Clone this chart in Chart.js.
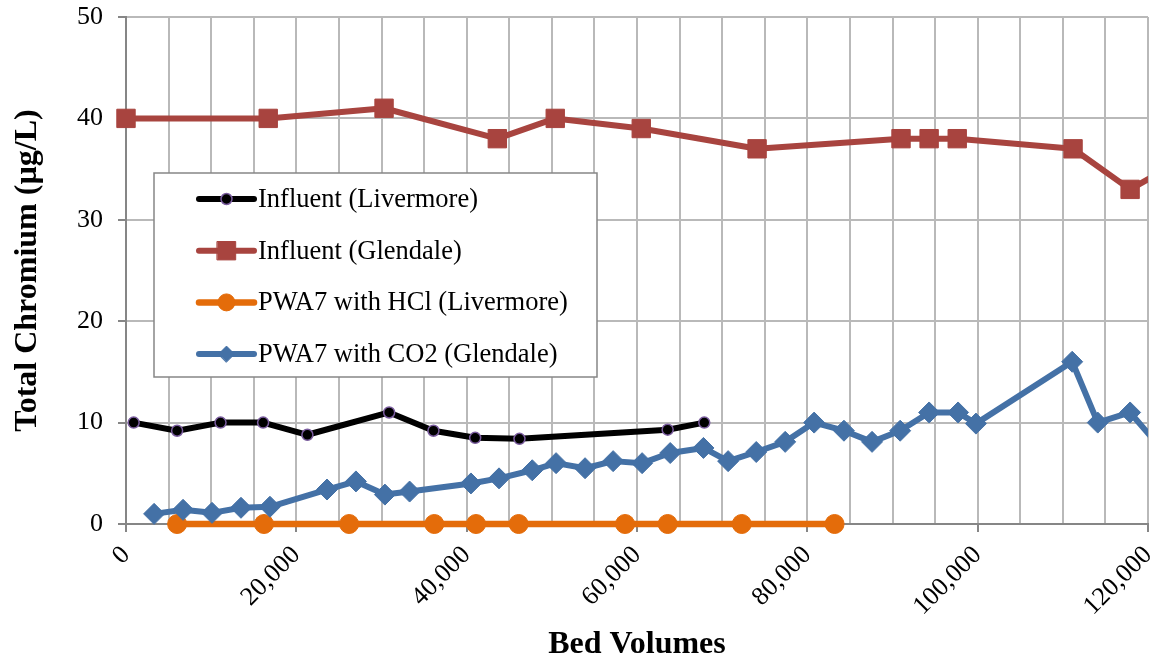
<!DOCTYPE html>
<html>
<head>
<meta charset="utf-8">
<script src="https://cdn.jsdelivr.net/npm/chart.js@4.4.0/dist/chart.umd.min.js"></script>
<style>
  html, body { margin: 0; padding: 0; background: #fff; overflow: hidden; }
  #wrap { width: 1156px; height: 658px; }
  canvas { display: block; }
</style>
</head>
<body>
<div id="wrap"><canvas id="grafica"></canvas></div>
<script>
  // Bed volumes (x) and total chromium in ug/L (y)
  const livermoreInfBV = [900, 6000, 11100, 16100, 21300, 30900, 36100, 41000, 46200, 63600, 67900];
  const livermoreInfCr = [10, 9.2, 10, 10, 8.8, 11, 9.2, 8.5, 8.4, 9.3, 10];

  const glendaleInfBV = [0, 16700, 30300, 43600, 50400, 60500, 74100, 91000, 94300, 97600, 111200, 117900, 122500];
  const glendaleInfCr = [40, 40, 41, 38, 40, 39, 37, 38, 38, 38, 37, 33, 35.2];

  const hclBV = [6000, 16200, 26200, 36200, 41100, 46100, 58600, 63600, 72300, 83200];
  const hclCr = [0, 0, 0, 0, 0, 0, 0, 0, 0, 0];

  const co2BV = [3300, 6700, 10100, 13500, 16900, 23600, 27000, 30400, 33300, 40500, 43800, 47700,
    50500, 53900, 57200, 60600, 63900, 67800, 70700, 74000, 77400, 80800, 84300, 87600, 90900,
    94300, 97700, 99800, 111100, 114100, 117900, 122000];
  const co2Cr = [1.0, 1.4, 1.1, 1.6, 1.7, 3.4, 4.2, 2.9, 3.2, 4.0, 4.5, 5.3,
    6.0, 5.5, 6.2, 6.0, 7.0, 7.5, 6.2, 7.1, 8.1, 10.0, 9.2, 8.1, 9.2,
    11.0, 11.0, 9.9, 16.0, 10.0, 11.0, 7.0];

  const seriesNames = [
    "Influent (Livermore)",
    "Influent (Glendale)",
    "PWA7 with HCl (Livermore)",
    "PWA7 with CO2 (Glendale)"
  ];

  const xTicks = [0, 20000, 40000, 60000, 80000, 100000, 120000];
  const yTicks = [0, 10, 20, 30, 40, 50];

  const serif = "'Liberation Serif', 'Times New Roman', serif";
  const gridGrey = "#b9b9b9";
  const axisGrey = "#868686";

  function puntos(xs, ys) {
    return xs.map((x, i) => ({ x: x, y: ys[i] }));
  }

  // legend drawn inside the plot, like the original
  const leyenda = {
    id: "leyenda",
    afterDraw(chart, args, opts) {
      const ctx = chart.ctx;
      ctx.save();
      ctx.fillStyle = "#fff";
      ctx.fillRect(opts.left, opts.top, opts.width, opts.height);
      ctx.strokeStyle = axisGrey;
      ctx.lineWidth = 1.5;
      ctx.strokeRect(opts.left, opts.top, opts.width, opts.height);

      chart.data.datasets.forEach((ds, i) => {
        const y = opts.top + opts.firstRow + i * opts.rowGap;
        const x1 = opts.left + 45, x2 = opts.left + 100;
        ctx.lineCap = "round";
        ctx.strokeStyle = ds.borderColor;
        ctx.lineWidth = ds.borderWidth;
        ctx.beginPath();
        ctx.moveTo(x1, y);
        ctx.lineTo(x2, y);
        ctx.stroke();

        ctx.fillStyle = ds.pointBackgroundColor;
        ctx.strokeStyle = ds.pointBorderColor;
        ctx.lineWidth = ds.pointBorderWidth;
        Chart.helpers.drawPoint(ctx, {
          pointStyle: ds.pointStyle,
          radius: ds.legendRadius,
          borderWidth: ds.pointBorderWidth,
          rotation: 0
        }, (x1 + x2) / 2, y);

        ctx.fillStyle = "#000";
        ctx.font = "26.5px " + serif;
        ctx.textBaseline = "middle";
        ctx.textAlign = "left";
        ctx.fillText(ds.label, x2 + 4, y + 1);
      });
      ctx.restore();
    }
  };

  const ctx = document.getElementById("grafica").getContext("2d");

  new Chart(ctx, {
    type: "scatter",
    data: {
      datasets: [
        {
          label: seriesNames[0],
          data: puntos(livermoreInfBV, livermoreInfCr),
          showLine: true,
          borderColor: "#000000",
          borderWidth: 6,
          pointStyle: "circle",
          pointRadius: 5.5,
          legendRadius: 5.5,
          pointBackgroundColor: "#000000",
          pointBorderColor: "#7a5c9e",
          pointBorderWidth: 1.5,
          clip: false,
          order: 4
        },
        {
          label: seriesNames[1],
          data: puntos(glendaleInfBV, glendaleInfCr),
          showLine: true,
          borderColor: "#a8443f",
          borderWidth: 6,
          pointStyle: "rect",
          pointRadius: 13,
          legendRadius: 13,
          pointBackgroundColor: "#a8443f",
          pointBorderColor: "#a8443f",
          pointBorderWidth: 1,
          clip: { left: false, top: false, right: 0, bottom: false },
          order: 3
        },
        {
          label: seriesNames[2],
          data: puntos(hclBV, hclCr),
          showLine: true,
          borderColor: "#e46c0a",
          borderWidth: 6.5,
          pointStyle: "circle",
          pointRadius: 9.5,
          legendRadius: 8.5,
          pointBackgroundColor: "#e46c0a",
          pointBorderColor: "#e46c0a",
          pointBorderWidth: 1,
          clip: false,
          order: 2
        },
        {
          label: seriesNames[3],
          data: puntos(co2BV, co2Cr),
          showLine: true,
          borderColor: "#4471a6",
          borderWidth: 6,
          pointStyle: "rectRot",
          pointRadius: 10.5,
          legendRadius: 8,
          pointBackgroundColor: "#4471a6",
          pointBorderColor: "#4471a6",
          pointBorderWidth: 1,
          clip: { left: false, top: false, right: 0, bottom: false },
          order: 1
        }
      ]
    },
    options: {
      responsive: true,
      maintainAspectRatio: false,
      animation: false,
      layout: { autoPadding: false, padding: { top: 17, right: 8, left: 0, bottom: 0 } },
      elements: {
        line: { tension: 0, borderJoinStyle: "round", borderCapStyle: "round" }
      },
      scales: {
        x: {
          type: "linear",
          min: 0,
          max: 120000,
          afterBuildTicks: (scale) => {
            const t = [];
            for (let v = 0; v <= 120000; v += 5000) t.push({ value: v });
            scale.ticks = t;
          },
          afterFit: (scale) => {
            scale.height = 134;
            scale.paddingLeft = 0;
            scale.paddingRight = 0;
          },
          ticks: {
            autoSkip: false,
            minRotation: 45,
            maxRotation: 45,
            padding: 8,
            color: "#000",
            font: { family: serif, size: 26 },
            callback: (v) => xTicks.includes(v) ? v.toLocaleString("en-US") : ""
          },
          grid: {
            color: gridGrey,
            lineWidth: 2,
            drawTicks: true,
            tickLength: 8,
            tickColor: (c) => xTicks.includes(c.tick && c.tick.value) ? axisGrey : "rgba(0,0,0,0)",
            tickWidth: 2
          },
          border: { display: true, color: axisGrey, width: 2 },
          title: {
            display: true,
            text: "Bed Volumes",
            color: "#000",
            font: { family: serif, size: 32, weight: "bold", lineHeight: 0.8 },
            padding: { top: 0, bottom: 0 }
          }
        },
        y: {
          min: 0,
          max: 50,
          afterBuildTicks: (scale) => {
            scale.ticks = yTicks.map(v => ({ value: v }));
          },
          afterFit: (scale) => {
            scale.width = 126;
            scale.paddingTop = 0;
            scale.paddingBottom = 0;
          },
          ticks: {
            padding: 15,
            color: "#000",
            font: { family: serif, size: 26 }
          },
          grid: {
            color: gridGrey,
            lineWidth: 2,
            drawTicks: true,
            tickLength: 8,
            tickColor: axisGrey,
            tickWidth: 2
          },
          border: { display: true, color: axisGrey, width: 2 },
          title: {
            display: true,
            text: "Total Chromium (µg/L)",
            color: "#000",
            font: { family: serif, size: 32, weight: "bold" },
            padding: { top: 9, bottom: 0 }
          }
        }
      },
      plugins: {
        legend: { display: false },
        tooltip: { enabled: false },
        leyenda: { left: 154, top: 173, width: 443, height: 204, firstRow: 26, rowGap: 51.7 }
      }
    },
    plugins: [leyenda]
  });
</script>
</body>
</html>
